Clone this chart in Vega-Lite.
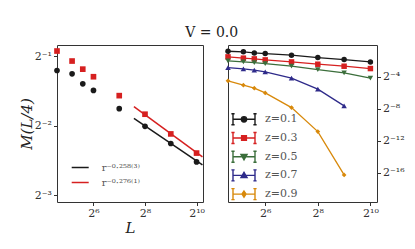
{
  "$schema": "https://vega.github.io/schema/vega-lite/v6.json",
  "padding": {"left": 18, "top": 25, "right": 0, "bottom": 0},
  "background": "white",
  "title": {"text": "V = 0.0", "anchor": "middle", "font": "DejaVu Serif", "fontSize": 14, "fontWeight": "normal", "color": "#222", "offset": 5},
  "resolve": {
    "scale": {"color": "independent", "stroke": "independent", "fill": "independent", "shape": "independent"},
    "legend": {"color": "independent", "stroke": "independent", "fill": "independent", "shape": "independent"}
  },
  "datasets": {
    "left": [
      {"L": 24, "M": 0.433, "s": "a"}, {"L": 36, "M": 0.419, "s": "a"}, {"L": 48, "M": 0.379, "s": "a"}, {"L": 64, "M": 0.355, "s": "a"},
      {"L": 128, "M": 0.296, "s": "a"}, {"L": 256, "M": 0.248, "s": "a"}, {"L": 512, "M": 0.209, "s": "a"}, {"L": 1024, "M": 0.174, "s": "a"},
      {"L": 24, "M": 0.526, "s": "b"}, {"L": 36, "M": 0.476, "s": "b"}, {"L": 48, "M": 0.439, "s": "b"}, {"L": 64, "M": 0.407, "s": "b"},
      {"L": 128, "M": 0.337, "s": "b"}, {"L": 256, "M": 0.280, "s": "b"}, {"L": 512, "M": 0.230, "s": "b"}, {"L": 1024, "M": 0.190, "s": "b"}
    ],
    "fits": [
      {"L": 190, "M": 0.2685, "fit": "r⁻⁰·²⁵⁸⁽³⁾"}, {"L": 1200, "M": 0.169, "fit": "r⁻⁰·²⁵⁸⁽³⁾"},
      {"L": 190, "M": 0.302, "fit": "r⁻⁰·²⁷⁶⁽¹⁾"}, {"L": 1200, "M": 0.183, "fit": "r⁻⁰·²⁷⁶⁽¹⁾"}
    ],
    "right": [
      {"L": 24, "M": 0.582, "z": "z=0.1"}, {"L": 36, "M": 0.551, "z": "z=0.1"}, {"L": 48, "M": 0.503, "z": "z=0.1"}, {"L": 64, "M": 0.473, "z": "z=0.1"},
      {"L": 128, "M": 0.412, "z": "z=0.1"}, {"L": 256, "M": 0.335, "z": "z=0.1"}, {"L": 512, "M": 0.281, "z": "z=0.1"}, {"L": 1024, "M": 0.230, "z": "z=0.1"},
      {"L": 24, "M": 0.356, "z": "z=0.3"}, {"L": 36, "M": 0.319, "z": "z=0.3"}, {"L": 48, "M": 0.299, "z": "z=0.3"}, {"L": 64, "M": 0.274, "z": "z=0.3"},
      {"L": 128, "M": 0.230, "z": "z=0.3"}, {"L": 256, "M": 0.188, "z": "z=0.3"}, {"L": 512, "M": 0.158, "z": "z=0.3"}, {"L": 1024, "M": 0.129, "z": "z=0.3"},
      {"L": 24, "M": 0.252, "z": "z=0.5"}, {"L": 36, "M": 0.230, "z": "z=0.5"}, {"L": 48, "M": 0.216, "z": "z=0.5"}, {"L": 64, "M": 0.199, "z": "z=0.5"},
      {"L": 128, "M": 0.158, "z": "z=0.5"}, {"L": 256, "M": 0.118, "z": "z=0.5"}, {"L": 512, "M": 0.0884, "z": "z=0.5"}, {"L": 1024, "M": 0.0560, "z": "z=0.5"},
      {"L": 24, "M": 0.141, "z": "z=0.7"}, {"L": 36, "M": 0.125, "z": "z=0.7"}, {"L": 48, "M": 0.112, "z": "z=0.7"}, {"L": 64, "M": 0.0969, "z": "z=0.7"},
      {"L": 128, "M": 0.0560, "z": "z=0.7"}, {"L": 256, "M": 0.0215, "z": "z=0.7"}, {"L": 512, "M": 0.00502, "z": "z=0.7"},
      {"L": 24, "M": 0.0442, "z": "z=0.9"}, {"L": 36, "M": 0.0304, "z": "z=0.9"}, {"L": 48, "M": 0.0234, "z": "z=0.9"}, {"L": 64, "M": 0.0155, "z": "z=0.9"},
      {"L": 128, "M": 0.00433, "z": "z=0.9"}, {"L": 256, "M": 0.000538, "z": "z=0.9"}, {"L": 512, "M": 0.0000124, "z": "z=0.9"}
    ]
  },
  "spacing": 19,
  "hconcat": [
    {
      "width": 146,
      "height": 157,
      "layer": [
        {
          "data": {"name": "fits"},
          "mark": {"type": "line", "strokeWidth": 1.5, "clip": true},
          "encoding": {
            "x": {"field": "L", "type": "quantitative"},
            "y": {"field": "M", "type": "quantitative"},
            "stroke": {
              "field": "fit", "type": "nominal",
              "scale": {"domain": ["r⁻⁰·²⁵⁸⁽³⁾", "r⁻⁰·²⁷⁶⁽¹⁾"], "range": ["#1a1a1a", "#d62020"]},
              "legend": {"title": null, "orient": "none", "legendX": 13.7, "legendY": 113, "padding": 0, "symbolType": "stroke", "symbolSize": 289, "symbolStrokeWidth": 1.5, "rowPadding": 0, "labelOffset": 12, "labelFont": "DejaVu Serif", "labelFontSize": 10, "labelColor": "#555"}
            }
          }
        },
        {
          "data": {"name": "left"},
          "transform": [{"filter": "datum.s == 'a'"}],
          "mark": {"type": "point", "shape": "circle", "filled": true, "opacity": 1, "size": 32, "color": "#1a1a1a", "clip": false},
          "encoding": {
            "x": {"field": "L", "type": "quantitative", "scale": {"type": "log", "base": 2, "domain": [24, 1218], "nice": false, "zero": false},
              "axis": {"values": [64, 256, 1024], "labelExpr": "datum.value == 64 ? '2⁶' : datum.value == 256 ? '2⁸' : '2¹⁰'", "title": "L"}},
            "y": {"field": "M", "type": "quantitative", "scale": {"type": "log", "base": 2, "domain": [0.1166, 0.5586], "nice": false, "zero": false},
              "axis": {"values": [0.5, 0.25, 0.125], "labelExpr": "datum.value == 0.5 ? '2⁻¹' : datum.value == 0.25 ? '2⁻²' : '2⁻³'", "title": "M(L/4)"}}
          }
        },
        {
          "data": {"name": "left"},
          "transform": [{"filter": "datum.s == 'b'"}],
          "mark": {"type": "point", "shape": "square", "filled": true, "opacity": 1, "size": 32, "color": "#d62020", "clip": false},
          "encoding": {
            "x": {"field": "L", "type": "quantitative"},
            "y": {"field": "M", "type": "quantitative"}
          }
        }
      ]
    },
    {
      "width": 149,
      "height": 157,
      "encoding": {
        "x": {"field": "L", "type": "quantitative", "scale": {"type": "log", "base": 2, "domain": [24, 1218], "nice": false, "zero": false},
          "axis": {"values": [64, 256, 1024], "labelExpr": "datum.value == 64 ? '2⁶' : datum.value == 256 ? '2⁸' : '2¹⁰'", "title": null}},
        "y": {"field": "M", "type": "quantitative", "scale": {"type": "log", "base": 2, "domain": [0.00000118, 1], "nice": false, "zero": false},
          "axis": {"orient": "right", "values": [0.0625, 0.00390625, 0.000244140625, 0.0000152587890625], "labelExpr": "datum.value > 0.05 ? '2⁻⁴' : datum.value > 0.003 ? '2⁻⁸' : datum.value > 0.0002 ? '2⁻¹²' : '2⁻¹⁶'", "title": null}}
      },
      "layer": [
        {
          "data": {"name": "right"},
          "transform": [{"filter": "datum.z == 'z=0.1'"}],
          "mark": {"type": "line", "strokeWidth": 1.3, "color": "#1a1a1a", "point": {"shape": "circle", "filled": true, "size": 30, "color": "#1a1a1a"}}
        },
        {
          "data": {"name": "right"},
          "transform": [{"filter": "datum.z == 'z=0.3'"}],
          "mark": {"type": "line", "strokeWidth": 1.3, "color": "#d62020", "point": {"shape": "square", "filled": true, "size": 30, "color": "#d62020"}}
        },
        {
          "data": {"name": "right"},
          "transform": [{"filter": "datum.z == 'z=0.5'"}],
          "mark": {"type": "line", "strokeWidth": 1.3, "color": "#3b6e3b", "point": {"shape": "triangle-down", "filled": true, "size": 30, "color": "#3b6e3b"}}
        },
        {
          "data": {"name": "right"},
          "transform": [{"filter": "datum.z == 'z=0.7'"}],
          "mark": {"type": "line", "strokeWidth": 1.3, "color": "#2e2a8a", "point": {"shape": "triangle-up", "filled": true, "size": 30, "color": "#2e2a8a"}}
        },
        {
          "data": {"name": "right"},
          "transform": [{"filter": "datum.z == 'z=0.9'"}],
          "mark": {"type": "line", "strokeWidth": 1.3, "color": "#d8890b", "point": {"shape": "diamond", "filled": true, "size": 22, "color": "#d8890b"}}
        },
        {
          "data": {"name": "right"},
          "mark": {"type": "point", "filled": true, "opacity": 0, "size": 10},
          "encoding": {
            "fill": {"field": "z", "type": "nominal", "scale": {"domain": ["z=0.1", "z=0.3", "z=0.5", "z=0.7", "z=0.9"], "range": ["#1a1a1a", "#d62020", "#3b6e3b", "#2e2a8a", "#d8890b"]},
              "legend": {"title": null, "orient": "none", "legendX": 7, "legendY": 65.3, "padding": 0, "symbolSize": 256, "symbolStrokeWidth": 1.4, "symbolOpacity": 1, "rowPadding": 0.7, "labelOffset": 12, "labelFont": "DejaVu Serif", "labelFontSize": 11, "labelColor": "#555"}},
            "stroke": {"field": "z", "type": "nominal", "scale": {"domain": ["z=0.1", "z=0.3", "z=0.5", "z=0.7", "z=0.9"], "range": ["#1a1a1a", "#d62020", "#3b6e3b", "#2e2a8a", "#d8890b"]},
              "legend": {"title": null, "orient": "none", "legendX": 7, "legendY": 65.3, "padding": 0, "symbolSize": 256, "symbolStrokeWidth": 1.4, "symbolOpacity": 1, "rowPadding": 0.7, "labelOffset": 12, "labelFont": "DejaVu Serif", "labelFontSize": 11, "labelColor": "#555"}},
            "shape": {"field": "z", "type": "nominal", "scale": {"domain": ["z=0.1", "z=0.3", "z=0.5", "z=0.7", "z=0.9"], "range": [
              "M-1.375,0H1.375M-1.375,-0.69V0.69M1.375,-0.69V0.69M-1.575,-0.69H-1.175M-1.575,0.69H-1.175M1.175,-0.69H1.575M1.175,0.69H1.575M0.33,0A0.33,0.33,0,1,1,-0.33,0A0.33,0.33,0,1,1,0.33,0Z",
              "M-1.375,0H1.375M-1.375,-0.69V0.69M1.375,-0.69V0.69M-1.575,-0.69H-1.175M-1.575,0.69H-1.175M1.175,-0.69H1.575M1.175,0.69H1.575M-0.3,-0.3H0.3V0.3H-0.3Z",
              "M-1.375,0H1.375M-1.375,-0.69V0.69M1.375,-0.69V0.69M-1.575,-0.69H-1.175M-1.575,0.69H-1.175M1.175,-0.69H1.575M1.175,0.69H1.575M-0.38,-0.28H0.38L0,0.38Z",
              "M-1.375,0H1.375M-1.375,-0.69V0.69M1.375,-0.69V0.69M-1.575,-0.69H-1.175M-1.575,0.69H-1.175M1.175,-0.69H1.575M1.175,0.69H1.575M-0.38,0.28H0.38L0,-0.38Z",
              "M-1.375,0H1.375M-1.375,-0.69V0.69M1.375,-0.69V0.69M-1.575,-0.69H-1.175M-1.575,0.69H-1.175M1.175,-0.69H1.575M1.175,0.69H1.575M0,-0.38L0.25,0L0,0.38L-0.25,0Z"
            ]},
              "legend": {"title": null, "orient": "none", "legendX": 7, "legendY": 65.3, "padding": 0, "symbolSize": 256, "symbolStrokeWidth": 1.4, "symbolOpacity": 1, "rowPadding": 0.7, "labelOffset": 12, "labelFont": "DejaVu Serif", "labelFontSize": 11, "labelColor": "#555"}}
          }
        }
      ]
    }
  ],
  "config": {
    "view": {"stroke": "#333", "strokeWidth": 1},
    "axis": {"grid": false, "domain": false, "ticks": true, "tickColor": "#333", "tickSize": 3.5, "labelFont": "DejaVu Serif", "labelFontSize": 11, "labelColor": "#333", "labelPadding": 2,
      "titleFont": "DejaVu Serif", "titleFontSize": 15, "titleFontWeight": "normal", "titleFontStyle": "italic", "titleColor": "#222"},
    "axisX": {"titlePadding": 2},
    "axisY": {"titlePadding": 0}
  }
}
